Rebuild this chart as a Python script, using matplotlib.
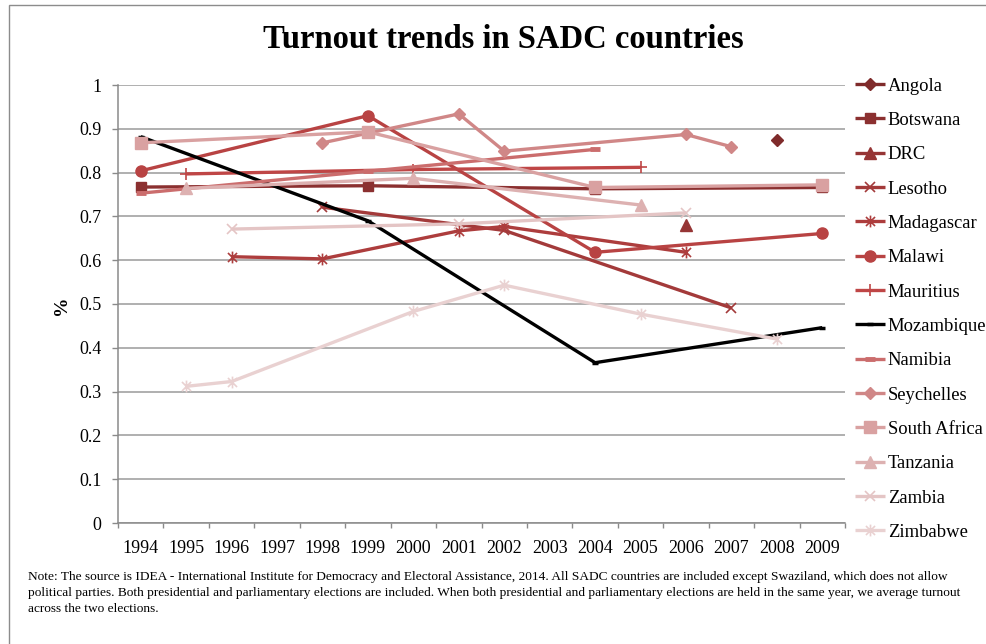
import matplotlib
matplotlib.use("Agg")
import matplotlib.pyplot as plt
from matplotlib.path import Path
from matplotlib.patches import Rectangle
from matplotlib.ticker import FixedLocator

# ---------------- data ----------------
years = [1994, 1995, 1996, 1997, 1998, 1999, 2000, 2001, 2002, 2003,
         2004, 2005, 2006, 2007, 2008, 2009]
y_ticks = [0, 0.1, 0.2, 0.3, 0.4, 0.5, 0.6, 0.7, 0.8, 0.9, 1]
y_tick_labels = ["0", "0.1", "0.2", "0.3", "0.4", "0.5", "0.6", "0.7", "0.8", "0.9", "1"]

countries = ["Angola", "Botswana", "DRC", "Lesotho", "Madagascar", "Malawi",
             "Mauritius", "Mozambique", "Namibia", "Seychelles", "South Africa",
             "Tanzania", "Zambia", "Zimbabwe"]

angola_years = [2008]
angola_vals = [0.874]
botswana_years = [1994, 1999, 2004, 2009]
botswana_vals = [0.767, 0.770, 0.763, 0.766]
drc_years = [2006]
drc_vals = [0.680]
lesotho_years = [1998, 2002, 2007]
lesotho_vals = [0.721, 0.668, 0.491]
madagascar_years = [1996, 1998, 2001, 2002, 2006]
madagascar_vals = [0.608, 0.603, 0.667, 0.677, 0.618]
malawi_years = [1994, 1999, 2004, 2009]
malawi_vals = [0.804, 0.930, 0.618, 0.661]
mauritius_years = [1995, 2000, 2005]
mauritius_vals = [0.797, 0.807, 0.812]
mozambique_years = [1994, 1999, 2004, 2009]
mozambique_vals = [0.882, 0.690, 0.366, 0.446]
namibia_years = [1994, 1999, 2004]
namibia_vals = [0.753, 0.803, 0.853]
seychelles_years = [1998, 2001, 2002, 2006, 2007]
seychelles_vals = [0.868, 0.934, 0.849, 0.887, 0.859]
southafrica_years = [1994, 1999, 2004, 2009]
southafrica_vals = [0.868, 0.893, 0.766, 0.772]
tanzania_years = [1995, 2000, 2005]
tanzania_vals = [0.764, 0.787, 0.726]
zambia_years = [1996, 2001, 2006]
zambia_vals = [0.671, 0.683, 0.708]
zimbabwe_years = [1995, 1996, 2000, 2002, 2005, 2008]
zimbabwe_vals = [0.312, 0.323, 0.483, 0.543, 0.477, 0.420]

title = "Turnout trends in SADC countries"
note = ("Note: The source is IDEA - International Institute for Democracy and Electoral Assistance, 2014. "
        "All SADC countries are included except Swaziland, which does not allow\n"
        "political parties. Both presidential and parliamentary elections are included. "
        "When both presidential and parliamentary elections are held in the same year, we average turnout\n"
        "across the two elections.")

# ---------------- styles ----------------
asterisk = Path([(-1, -1), (1, 1), (-1, 1), (1, -1), (0, -1.3), (0, 1.3)],
                [Path.MOVETO, Path.LINETO, Path.MOVETO, Path.LINETO, Path.MOVETO, Path.LINETO])

series = [
    (angola_years, angola_vals, "#7f2b2b", "D", 6.5, 1.0),
    (botswana_years, botswana_vals, "#8b3030", "s", 7.5, 1.0),
    (drc_years, drc_vals, "#963535", "^", 8.5, 1.0),
    (lesotho_years, lesotho_vals, "#a33a3a", "x", 7.5, 1.2),
    (madagascar_years, madagascar_vals, "#ad3d3d", asterisk, 8.5, 1.2),
    (malawi_years, malawi_vals, "#b84343", "o", 8.0, 1.0),
    (mauritius_years, mauritius_vals, "#bf4646", "+", 9.0, 1.2),
    (mozambique_years, mozambique_vals, "#000000", "_", 4.0, 2.5),
    (namibia_years, namibia_vals, "#cb6d6d", "_", 7.5, 3.5),
    (seychelles_years, seychelles_vals, "#d08787", "D", 6.5, 1.0),
    (southafrica_years, southafrica_vals, "#d9a1a1", "s", 8.0, 1.0),
    (tanzania_years, tanzania_vals, "#ddb1b1", "^", 8.5, 1.0),
    (zambia_years, zambia_vals, "#e4c5c5", "x", 7.5, 1.2),
    (zimbabwe_years, zimbabwe_vals, "#e9d1d1", asterisk, 8.5, 1.2),
]

serif = ["Liberation Serif", "DejaVu Serif"]
plt.rcParams["font.family"] = serif

W, H = 986, 644
fig = plt.figure(figsize=(W / 100, H / 100), dpi=100)
ax = fig.add_axes([118 / W, 1 - 523 / H, (845 - 118) / W, (523 - 85) / H])

for (yrs, vals, col, mk, ms, mew), name in zip(series, countries):
    xs = [years.index(y) for y in yrs]
    ax.plot(xs, vals, color=col, lw=2.4, marker=mk, markersize=ms,
            markeredgewidth=mew, markerfacecolor=col, markeredgecolor=col,
            label=name, solid_capstyle="butt", clip_on=False)

ax.set_xlim(-0.5, len(years) - 0.5)
ax.set_ylim(0, 1)
ax.set_xticks(range(len(years)))
ax.set_xticklabels([str(y) for y in years])
ax.xaxis.set_minor_locator(FixedLocator([i - 0.5 for i in range(len(years) + 1)]))
ax.tick_params(axis="x", which="major", length=0, pad=12, labelsize=13)
ax.tick_params(axis="x", which="minor", length=3.5, width=1, color="#8a8a8a", direction="out")
ax.set_yticks(y_ticks)
ax.set_yticklabels(y_tick_labels)
ax.tick_params(axis="y", length=4, width=1, color="#8a8a8a", direction="out", pad=8, labelsize=13)

ax.grid(axis="y", color="#9a9a9a", lw=1.1)
ax.set_axisbelow(True)
for s in ["top", "right"]:
    ax.spines[s].set_visible(False)
for s in ["left", "bottom"]:
    ax.spines[s].set_color("#8a8a8a")
    ax.spines[s].set_linewidth(1.1)

leg = ax.legend(loc="upper left", bbox_to_anchor=(855 / W, 1 - 77.5 / H),
                bbox_transform=fig.transFigure, frameon=False, fontsize=13.4,
                borderpad=0, borderaxespad=0, handlelength=1.6, handletextpad=0.15,
                labelspacing=0.93)

fig.text(503.5 / W, 1 - 40 / H, title, ha="center", va="center",
         fontsize=23.5, fontweight="bold")
fig.text(62 / W, 1 - 305 / H, "%", ha="center", va="center", rotation=90,
         fontsize=14, fontweight="bold")
fig.text(28 / W, 1 - 571 / H, note, ha="left", va="top", fontsize=9.65,
         linespacing=1.45)

fig.patches.append(Rectangle((9 / W, -0.02), 1.0, 1 - 5 / H + 0.02,
                             transform=fig.transFigure, fill=False,
                             edgecolor="#8c8c8c", lw=1.0))

fig.savefig("out.png", dpi=100)
